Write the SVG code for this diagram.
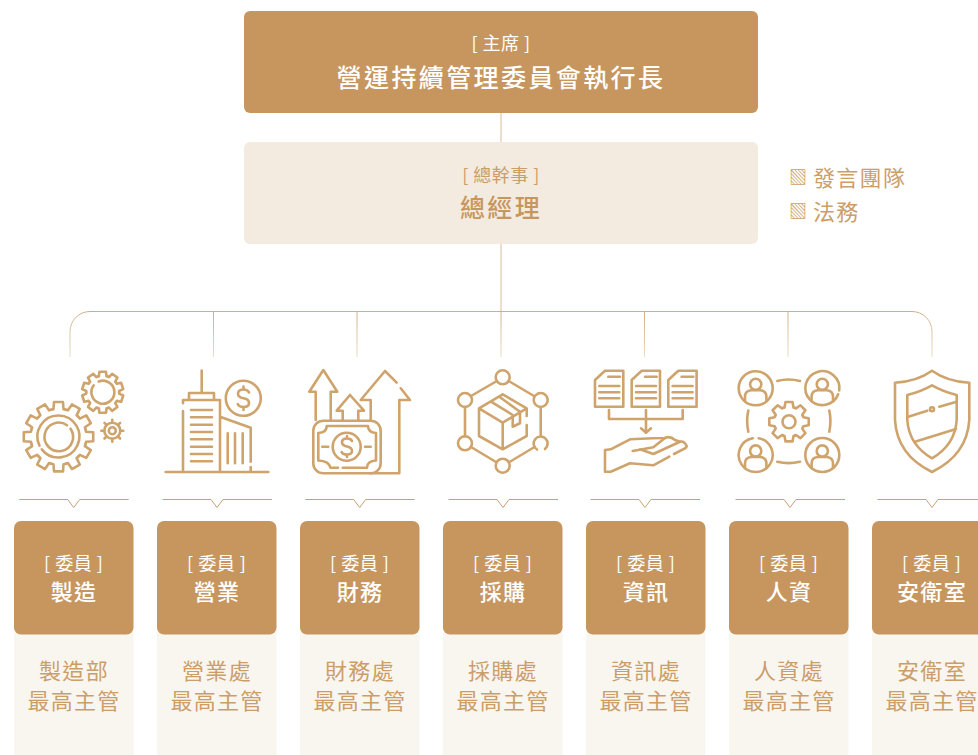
<svg xmlns="http://www.w3.org/2000/svg" width="978" height="755" viewBox="0 0 978 755">
<style>
text{font-family:"Noto Sans CJK TC","Noto Sans",sans-serif;text-anchor:middle}
.dark{fill:#c7965f}.pale{fill:#f3ebdf}.panel{fill:#f9f6f0}
.sm{font-size:18px;letter-spacing:.5px}
.w{fill:#fff}.g{fill:#cb9e69}
.t{font-size:25px;font-weight:500;letter-spacing:2.4px}
.n{font-size:22px;font-weight:500;letter-spacing:1.3px}
.b{font-size:22px;letter-spacing:1.3px}
.side{font-size:22px;letter-spacing:1.3px;text-anchor:start}
.sq{font-size:18px;text-anchor:start}
.ic{fill:none;stroke:#cfa46c;stroke-width:2.6;stroke-linecap:round;stroke-linejoin:round}
.div{fill:none;stroke:#c9a273;stroke-width:1}
.c{fill:none;stroke:#d9bd97;stroke-width:1}
</style>
<defs>
<linearGradient id="fade" gradientUnits="userSpaceOnUse" x1="0" y1="311" x2="0" y2="357"><stop offset="0" stop-color="#cfae85"/><stop offset="1" stop-color="#ecdcc6"/></linearGradient>
<path id="t1" d="M-7.250-27.050A28 28 0 0 1-5-27.550L-4.500-34.700H4.500L5-27.550A28 28 0 0 1 7.250-27.050"/>
<path id="t2" d="M-5.100-15.700A16.500 16.500 0 0 1-3.800-16.050L-3.300-20.500H3.300L3.800-16.050A16.500 16.500 0 0 1 5.100-15.700"/>
<path id="t3" d="M-5.700-13.900A15 15 0 0 1-4.500-14.300L-3.500-19.700H3.500L4.500-14.300A15 15 0 0 1 5.700-13.900"/>
<g id="notch"><path class="div" d="M-54.500 0H-6L0 8L6 0H55"/></g>
<g id="person"><circle cx="0" cy="-4" r="5.600"/><path d="M-10.700 13V8.500Q-10.700 2.500-4.500 2H4.500Q10.700 2.500 10.700 8.500V13"/></g>
<g id="doc"><path d="M595 380L605 370.700H623.300V406.700H595Z"/><path d="M608.300 376.700H620M599.300 386H619.300M599.300 392.300H619.300M599.300 398.300H619.300"/></g>
</defs>
<g id="connectors">
<path class="c" d="M501 113V142M501 244V311.500"/>
<path stroke="url(#fade)" fill="none" d="M70 357V331.500A20 20 0 0 1 90 311.500H912A20 20 0 0 1 932 331.500V357"/>
<path stroke="url(#fade)" fill="none" d="M213.500 311.500V357M357 311.500V357M501 311.500V357M644.500 311.500V357M788 311.500V357"/>
</g>
<g id="node-chair"><rect class="dark" x="244" y="11" width="514" height="102" rx="6"/><text class="sm w" x="501" y="49.500">[ 主席 ]</text><text class="t w" x="501" y="86.500">營運持續管理委員會執行長</text></g>
<g id="node-gm"><rect class="pale" x="244" y="142" width="514" height="102" rx="6"/><text class="sm g" x="501" y="181.500">[ 總幹事 ]</text><text class="t g" style="fill:#c7965f" x="501" y="217">總經理</text></g>
<g id="node-side"><text class="sq g" x="789" y="184">▧</text><text class="side g" x="813" y="185.500">發言團隊</text><text class="sq g" x="789" y="218">▧</text><text class="side g" x="813" y="220">法務</text></g>

<g id="node-mfg">
<g class="ic">
<g transform="translate(58.500 436.700)"><use href="#t1"/><use href="#t1" transform="rotate(30)"/><use href="#t1" transform="rotate(60)"/><use href="#t1" transform="rotate(90)"/><use href="#t1" transform="rotate(120)"/><use href="#t1" transform="rotate(150)"/><use href="#t1" transform="rotate(180)"/><use href="#t1" transform="rotate(210)"/><use href="#t1" transform="rotate(240)"/><use href="#t1" transform="rotate(270)"/><use href="#t1" transform="rotate(300)"/><use href="#t1" transform="rotate(330)"/>
<path d="M-16.700 12.700A21 21 0 1 0-19 9"/><path d="M8.500-11.500A14.300 14.300 0 1 0 12-8"/></g>
<g transform="translate(102.700 392.300)"><use href="#t2"/><use href="#t2" transform="rotate(36)"/><use href="#t2" transform="rotate(72)"/><use href="#t2" transform="rotate(108)"/><use href="#t2" transform="rotate(144)"/><use href="#t2" transform="rotate(180)"/><use href="#t2" transform="rotate(216)"/><use href="#t2" transform="rotate(252)"/><use href="#t2" transform="rotate(288)"/><use href="#t2" transform="rotate(324)"/>
<path d="M-9-7A11.500 11.500 0 1 0-4-10.800"/></g>
<g transform="translate(112.300 430.700)"><circle r="8"/><circle r="3.500"/><path d="M0-8V-11M5.700-5.700L7.800-7.800M8 0H11M5.700 5.700L7.800 7.800M0 8V11M-5.700 5.700L-7.800 7.800M-8 0H-11M-5.700-5.700L-7.800-7.800"/></g>
</g>
<use href="#notch" transform="translate(73.700 499.500)"/>
<rect class="panel" x="14" y="625" width="119.500" height="130"/><rect class="dark" x="14" y="521" width="119.500" height="113.500" rx="7"/>
<text class="sm w" x="73.700" y="569.500">[ 委員 ]</text><text class="n w" x="74" y="600">製造</text>
<text class="b g" x="74" y="678.500">製造部</text><text class="b g" x="74" y="708.500">最高主管</text>
</g>

<g id="node-sales">
<path class="ic" d="M165.700 472H268.300M183 472V411M183 403.300V400H220V472M189 399V393H214V399M201.700 370.500V393M191 410H212M191 417.300H212M191 424.700H212M191 432H212M191 439.300H212M191 446.700H212M191 454H212M191 461.300H212M220 416.700L250.700 427.700V461.700M250.700 467V472M227.700 433.300V463.300M235 433.300V463.300M242.700 433.300V463.300"/>
<circle class="ic" cx="243.300" cy="398.300" r="17.500"/>
<path class="ic" d="M249 392.500Q247.500 389.500 243.500 389.500Q238 389.500 238 393.800Q238 397.500 243.500 398.300Q249 399.200 249 403Q249 407 243.500 407Q239 407 237.800 404M243.500 386.500V389.500M243.500 407V410"/>
<use href="#notch" transform="translate(217 499.500)"/>
<rect class="panel" x="157" y="625" width="119.500" height="130"/><rect class="dark" x="157" y="521" width="119.500" height="113.500" rx="7"/>
<text class="sm w" x="216.700" y="569.500">[ 委員 ]</text><text class="n w" x="217" y="600">營業</text>
<text class="b g" x="217" y="678.500">營業處</text><text class="b g" x="217" y="708.500">最高主管</text>
</g>

<g id="node-finance">
<path class="ic" d="M315.700 420V391.700H309.300L323.300 370L337.300 391.700H330.700V420M342.700 420V410.700H336.700L350 395L364 410.700H358.300V420M370.700 420V400H360.700L385 371L396.700 382.700M400.700 388.300L410 400H399.300V473.300H370"/>
<rect class="ic" x="313.300" y="420.700" width="67.400" height="52.600" rx="10"/>
<path class="ic" d="M338 467.700H330.500Q329 461 318.300 460.500V433Q327 432.500 326.700 426H368Q368 432.500 376 433V460.500Q367 461 367 467.700H342.700"/>
<circle class="ic" cx="346.700" cy="446.700" r="14"/>
<path class="ic" d="M352 441Q351 438.500 347 438.500Q342 438.500 342 442.300Q342 445.500 347 446.500Q352 447.500 352 451Q352 454.500 347 454.500Q342.500 454.500 341.700 452M347 436V438.500M347 454.500V457M322.300 446.700H328.300M365 446.700H370.700"/>
<use href="#notch" transform="translate(359.700 499.500)"/>
<rect class="panel" x="300" y="625" width="119.500" height="130"/><rect class="dark" x="300" y="521" width="119.500" height="113.500" rx="7"/>
<text class="sm w" x="359.700" y="569.500">[ 委員 ]</text><text class="n w" x="360" y="600">財務</text>
<text class="b g" x="360" y="678.500">財務處</text><text class="b g" x="360" y="708.500">最高主管</text>
</g>

<g id="node-purchase">
<g class="ic"><circle cx="502.700" cy="377.300" r="7"/><circle cx="465" cy="400" r="7"/><circle cx="540.700" cy="400" r="7"/><circle cx="465" cy="443.300" r="7"/><path d="M537 449.500A7 7 0 1 1 545 449"/><circle cx="502.700" cy="465.700" r="7"/>
<path d="M509.500 381.500L534 396M496 381.500L471 396M465 407V436.300M540.700 407V436.300M471 447L496 462M509.500 462L534.500 447"/>
<path d="M502.700 394.300L526.700 408.300V416M526.700 425V436L502.700 449.300L479 436V408.300L502.700 394.300M479 408.300L502.700 422.700L526.700 408.300M502.700 422.700V449.300M491 401.700L512.700 415V426.700L520 423.300V411.700L500 397.300"/></g>
<use href="#notch" transform="translate(503 499.500)"/>
<rect class="panel" x="443" y="625" width="119.500" height="130"/><rect class="dark" x="443" y="521" width="119.500" height="113.500" rx="7"/>
<text class="sm w" x="502.700" y="569.500">[ 委員 ]</text><text class="n w" x="503" y="600">採購</text>
<text class="b g" x="503" y="678.500">採購處</text><text class="b g" x="503" y="708.500">最高主管</text>
</g>

<g id="node-it">
<g class="ic"><use href="#doc"/><use href="#doc" transform="translate(36.700 0)"/><use href="#doc" transform="translate(73.300 0)"/>
<path d="M609 410V419H682.700V410M646 410V432.700M641 428.300L646 432.700L651 428.300"/>
<path d="M669.300 456.700L653.300 465.300L630 463.300L610.700 471.700H605V450L610.700 449.300L630 439.300L653.300 438.300L665 438Q670 435.500 675 440L680 441.700Q684 440.500 686.700 446Q686.500 447.500 685 448.300L674 454"/>
<path d="M632.700 451L653.300 447.300L665 438M640 449.300L653.300 454L680 441.700"/></g>
<use href="#notch" transform="translate(645 499.500)"/>
<rect class="panel" x="586" y="625" width="119.500" height="130"/><rect class="dark" x="586" y="521" width="119.500" height="113.500" rx="7"/>
<text class="sm w" x="645.700" y="569.500">[ 委員 ]</text><text class="n w" x="646" y="600">資訊</text>
<text class="b g" x="646" y="678.500">資訊處</text><text class="b g" x="646" y="708.500">最高主管</text>
</g>

<g id="node-hr">
<g class="ic"><circle cx="755.700" cy="388.300" r="17"/><path d="M838.200 394.300A17 17 0 1 1 839.200 390.500"/><circle cx="822.300" cy="455" r="17"/><path d="M752.700 438.300A17 17 0 1 0 758.700 438.300"/>
<use href="#person" x="755.700" y="388.300"/><use href="#person" x="822.300" y="388.300"/><use href="#person" x="755.700" y="455"/><use href="#person" x="822.300" y="455"/>
<path d="M777.300 381Q788.500 378 800 381M777.300 461.700Q788.500 464.500 800 461.700M748.300 410.500Q746 421 748.300 431.700M829.300 410.500Q831.500 421 829.300 431.700"/>
<g transform="translate(789 421.700)"><use href="#t3"/><use href="#t3" transform="rotate(45)"/><use href="#t3" transform="rotate(90)"/><use href="#t3" transform="rotate(135)"/><use href="#t3" transform="rotate(180)"/><use href="#t3" transform="rotate(225)"/><use href="#t3" transform="rotate(270)"/><use href="#t3" transform="rotate(315)"/><circle r="6.500"/></g></g>
<use href="#notch" transform="translate(790 499.500)"/>
<rect class="panel" x="729" y="625" width="119.500" height="130"/><rect class="dark" x="729" y="521" width="119.500" height="113.500" rx="7"/>
<text class="sm w" x="788.700" y="569.500">[ 委員 ]</text><text class="n w" x="789" y="600">人資</text>
<text class="b g" x="789" y="678.500">人資處</text><text class="b g" x="789" y="708.500">最高主管</text>
</g>

<g id="node-security">
<path class="ic" d="M932 370.700Q917 381.500 895 382.700V420Q897 455 932 472Q967 455 969.300 420V382.700Q947 381.500 932 370.700Z"/>
<path class="ic" d="M932 385.300Q921 391.500 907.300 395V420Q909 445 932 458.300Q955 445 956.700 420V395Q943 391.500 932 385.300Z"/>
<path class="ic" d="M908.300 416.700L927.300 410.700M939.300 406.700L956.700 401.700M915 441.700L956 429"/>
<circle class="ic" cx="932" cy="409.300" r="2"/>
<use href="#notch" transform="translate(932 499.500)"/>
<rect class="panel" x="872" y="625" width="119.500" height="130"/><rect class="dark" x="872" y="521" width="119.500" height="113.500" rx="7"/>
<text class="sm w" x="931.700" y="569.500">[ 委員 ]</text><text class="n w" x="932" y="600">安衛室</text>
<text class="b g" x="932" y="678.500">安衛室</text><text class="b g" x="932" y="708.500">最高主管</text>
</g>
</svg>
